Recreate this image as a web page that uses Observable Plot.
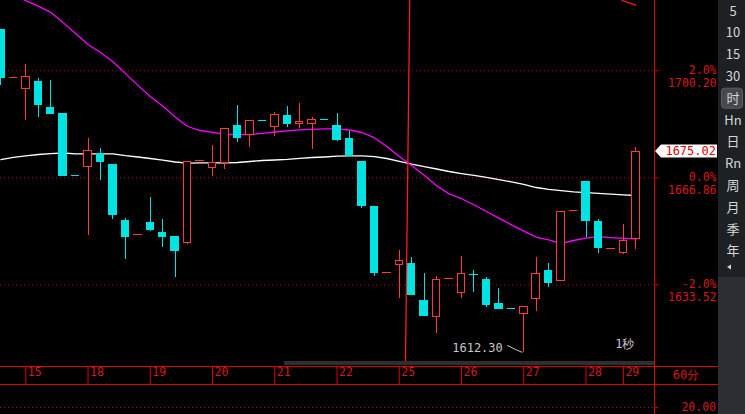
<!DOCTYPE html>
<html><head><meta charset="utf-8">
<script src="https://cdn.jsdelivr.net/npm/d3@7"></script>
<script src="https://cdn.jsdelivr.net/npm/@observablehq/plot@0.6"></script>
<style>
html,body{margin:0;padding:0;background:#000;overflow:hidden;}
#chart svg{display:block;}
</style></head><body><div id="chart"></div>
<script>
// ---- data (60-minute bars, index 0..51) ----
const opens = [1713.06,1697.95,1694.46,1696.86,1688.76,1686.89,1667.50,1670.16,1674.21,1670.69,
  1653.55,1649.08,1652.62,1649.81,1648.26,1646.48,1672.13,1669.85,1671.47,1683.15,
  1680.25,1684.64,1682.62,1685.96,1683.56,1683.56,1684.95,1683.15,1678.79,1671.93,
  1657.91,1637.23,1639.62,1640.15,1628.62,1623.42,1635.36,1630.90,1636.66,1634.86,
  1627.38,1626.06,1624.36,1629.03,1637.97,1634.64,1656.55,1665.70,1653.24,1644.72,
  1643.36,1647.85];
const highs = [1713.06,1697.99,1702.16,1697.70,1697.17,1686.89,1667.50,1679.10,1675.98,1670.69,
  1654.17,1649.10,1660.72,1653.86,1648.26,1671.84,1672.15,1676.92,1682.12,1689.39,
  1684.71,1684.64,1687.11,1689.07,1690.01,1685.65,1684.95,1686.89,1681.28,1671.93,
  1657.91,1637.25,1644.20,1642.02,1637.04,1636.10,1635.38,1642.33,1637.97,1635.79,
  1632.36,1626.06,1626.66,1642.02,1640.06,1656.26,1656.57,1665.70,1653.86,1644.76,
  1652.21,1676.30];
const lows = [1695.61,1697.95,1684.71,1685.74,1686.89,1667.26,1667.48,1648.88,1666.01,1653.86,
  1641.40,1649.08,1650.12,1645.14,1635.79,1646.17,1672.13,1667.26,1669.44,1677.86,
  1676.39,1684.62,1679.82,1682.53,1682.31,1675.77,1684.93,1678.17,1673.71,1657.29,
  1636.10,1637.23,1629.34,1630.49,1623.95,1618.44,1635.36,1629.34,1631.12,1626.54,
  1625.82,1626.04,1612.30,1625.29,1632.77,1634.64,1656.55,1648.25,1643.27,1644.72,
  1642.96,1644.51];
const closes = [1697.89,1697.99,1698.33,1689.39,1686.89,1667.57,1667.48,1675.27,1671.93,1655.42,
  1648.56,1649.10,1650.44,1648.26,1643.90,1671.84,1672.15,1671.53,1682.12,1679.41,
  1684.71,1684.62,1686.49,1683.77,1684.09,1685.02,1684.93,1678.48,1673.71,1658.22,
  1637.04,1637.25,1640.99,1630.49,1623.95,1635.07,1635.38,1636.94,1636.63,1627.07,
  1626.13,1626.04,1626.66,1636.94,1634.23,1656.26,1656.57,1653.55,1644.83,1644.76,
  1647.32,1675.02];
// moving averages
const maFast = [1725.2,1723.7,1722.07,1720.36,1718.42,1715.21,1711.79,1708.39,1705.90,1703.03,
  1699.39,1695.65,1692.16,1689.23,1685.83,1682.84,1681.59,1681.00,1680.35,1680.35,
  1680.35,1680.72,1681.13,1681.50,1681.78,1681.97,1682.12,1682.12,1681.75,1680.97,
  1679.35,1676.61,1673.49,1670.69,1667.66,1664.39,1661.84,1660.34,1658.47,1656.35,
  1654.30,1652.21,1650.22,1648.38,1647.51,1646.35,1647.32,1648.07,1648.50,1648.22,
  1648.01,1647.82];
const maSlow = [1672.50,1673.21,1673.71,1674.12,1674.40,1674.58,1674.33,1674.33,1674.33,1674.33,
  1673.74,1673.34,1672.87,1672.34,1671.78,1671.44,1671.53,1671.53,1671.53,1671.62,
  1671.93,1672.25,1672.40,1672.62,1672.93,1673.18,1673.34,1673.58,1673.71,1673.71,
  1673.43,1672.87,1671.99,1671.12,1670.34,1669.60,1668.82,1668.19,1667.63,1666.98,
  1666.29,1665.61,1664.83,1663.83,1663.27,1662.84,1662.46,1662.21,1662.00,1661.78,
  1661.53,1661.34];
// x axis: day labels and the bar index where each day starts
const dayLabels = ["15","18","19","20","21","22","25","26","27","28","29"];
const dayStart = [2,7,12,17,22,27,32,37,42,47,50];
// right axis levels
const pctLabels = ["2.0%","0.0%","-2.0%"];
const priceLevels = [1700.20,1666.86,1633.52];
const lastPrice = 1675.02;
const lowIndex = 42, lowPrice = 1612.30;
// user-drawn lines (bar index, price)
const drawLine1 = [{i:32.84,p:1722.10},{i:32.50,p:1609.93}];
const drawLine2 = [{i:49.90,p:1722.10},{i:51.00,p:1720.64}];
const periodButtons = ["5","10","15","30","时","Hn","日","Rn","周","月","季","年"];
const activeButton = "时";
const volLevel = "20.00";

// ---- build ----
const RED = "#ff3a3a", CYAN = "#00e3e3", FRAME = "#e00000", TXT = "#d81818", DOT = "#b00000";
const rows = opens.map((o,i)=>({i, open:o, high:highs[i], low:lows[i], close:closes[i],
  up: closes[i] > o, maFast: maFast[i], maSlow: maSlow[i]}));
const days = dayLabels.map((l,k)=>({label:l, i:dayStart[k]}));
const levels = priceLevels.map((p,k)=>({p, pct:pctLabels[k], txt:p.toFixed(2)}));
const mono = "'DejaVu Sans Mono', 'Liberation Mono', monospace";

const chart = Plot.plot({
  width: 745, height: 414,
  marginLeft: 0, marginRight: 91, marginTop: 0, marginBottom: 48,
  style: {background: "#000", fontFamily: mono, overflow: "visible"},
  x: {type: "linear", domain: [-0.032, 52.5], axis: null},
  y: {domain: [1609.93, 1722.10], range: [360, 0], axis: null},
  color: {type: "identity"},
  marks: [
    Plot.ruleY(levels, {y: "p", stroke: DOT, strokeDasharray: "1,3"}),
    Plot.axisY({anchor: "right", ticks: priceLevels, tickSize: 4, tickFormat: () => "", stroke: DOT, label: null}),
    Plot.text(levels, {y: "p", text: "pct", frameAnchor: "right", dx: 62, textAnchor: "end", fill: TXT, fontSize: 11.5}),
    Plot.text(levels, {y: "p", text: "txt", frameAnchor: "right", dx: 62, dy: 13, textAnchor: "end", fill: TXT, fontSize: 11.5}),
    Plot.line(rows, {x: "i", y: "maSlow", stroke: "#ffffff", strokeWidth: 1.3, clip: true}),
    Plot.line(rows, {x: "i", y: "maFast", stroke: "#ff00ff", strokeWidth: 1.3, clip: true}),
    Plot.ruleX(rows, {x: "i", y1: "low", y2: "high", stroke: d => d.up || (d.close === d.open) ? RED : CYAN, strokeWidth: 1, shapeRendering: "crispEdges"}),
    Plot.rect(rows, {x1: d => d.i - 0.3, x2: d => d.i + 0.3, y1: "open", y2: "close",
      fill: d => d.up ? "#000" : CYAN, stroke: d => d.up ? RED : CYAN, strokeWidth: 1, shapeRendering: "crispEdges"}),
    Plot.line(drawLine1, {x: "i", y: "p", stroke: "#ff1a1a", strokeWidth: 1.3, clip: true}),
    Plot.line(drawLine2, {x: "i", y: "p", stroke: "#ff1a1a", strokeWidth: 1.3, clip: true}),
    Plot.axisX({anchor: "bottom", ticks: dayStart, tickSize: 18, tickFormat: () => "", stroke: FRAME, label: null}),
    Plot.text(days, {x: "i", text: "label", frameAnchor: "bottom", dy: 9.5, dx: 2, textAnchor: "start", fill: TXT, fontSize: 11.5}),
    Plot.text([{i: lowIndex, p: lowPrice}], {x: "i", y: "p", text: d => d.p.toFixed(2), dx: -21, dy: -5, textAnchor: "end", fill: "#c8c8c8", fontSize: 12}),
    Plot.text(["1秒"], {frameAnchor: "bottom-right", text: d => d, dx: -20, dy: -19, textAnchor: "end", fill: "#c8c8c8", fontSize: 12})
  ]
});
document.getElementById("chart").appendChild(chart);

// ---- chrome drawn with the plot's scales ----
const svg = d3.select(chart);
const xs = chart.scale("x"), ys = chart.scale("y");
const right = 654, g = svg.append("g");
// scroll bar
g.append("rect").attr("x", 284).attr("y", 361).attr("width", right - 284).attr("height", 4).attr("fill", "#2e2e2e");
// leader line to the low label
const lx = xs.apply(lowIndex), ly = ys.apply(lowPrice);
g.append("path").attr("d", `M${lx - 16},${ly - 7}L${lx - 8},${ly - 3}L${lx - 1},${ly}`).attr("fill", "none").attr("stroke", "#c8c8c8").attr("stroke-width", 1);
// band lines
g.append("line").attr("x1", 0).attr("x2", 718).attr("y1", 366.5).attr("y2", 366.5).attr("stroke", FRAME);
g.append("line").attr("x1", 0).attr("x2", 718).attr("y1", 384.5).attr("y2", 384.5).attr("stroke", FRAME);
g.append("line").attr("x1", right + 0.5).attr("x2", right + 0.5).attr("y1", 0).attr("y2", 414).attr("stroke", FRAME);
g.append("text").attr("x", 686).attr("y", 375).attr("dy", "0.35em").attr("text-anchor", "middle").attr("fill", TXT).attr("font-size", 12).attr("font-family", mono).text("60分");
// volume panel top level
g.append("line").attr("x1", 0).attr("x2", right).attr("y1", 407.5).attr("y2", 407.5).attr("stroke", DOT).attr("stroke-dasharray", "1,3");
g.append("line").attr("x1", right).attr("x2", right + 4).attr("y1", 407.5).attr("y2", 407.5).attr("stroke", DOT);
g.append("text").attr("x", 716).attr("y", 407).attr("dy", "0.35em").attr("text-anchor", "end").attr("fill", TXT).attr("font-size", 11.5).attr("font-family", mono).text(volLevel);
// last price marker
const py = ys.apply(lastPrice);
g.append("path").attr("d", `M${right + 1},${py}L${right + 7},${py - 6.5}L717,${py - 6.5}L717,${py + 6.5}L${right + 7},${py + 6.5}Z`).attr("fill", "#fff");
g.append("text").attr("x", 716).attr("y", py).attr("dy", "0.36em").attr("text-anchor", "end").attr("fill", "#e00000").attr("font-size", 12).attr("font-family", mono).text(lastPrice.toFixed(2));
// right period panel
g.append("rect").attr("x", 718).attr("y", 0).attr("width", 27).attr("height", 277).attr("fill", "#1d2124");
g.append("rect").attr("x", 718).attr("y", 277).attr("width", 27).attr("height", 137).attr("fill", "#2b2e32");
periodButtons.forEach((b, k) => {
  const cy = 11 + k * 21.8;
  if (b === activeButton) g.append("rect").attr("x", 721.5).attr("y", cy - 10).attr("width", 21).attr("height", 20).attr("rx", 3).attr("fill", "#45484c").attr("stroke", "#5c5f63");
  g.append("text").attr("x", 733).attr("y", cy).attr("dy", "0.36em").attr("text-anchor", "middle").attr("fill", "#d6d6d6").attr("font-size", 13).attr("font-family", "'Noto Sans CJK SC', 'DejaVu Sans', sans-serif").text(b);
});
g.append("path").attr("d", "M727,267L731,264.5L731,269.5Z").attr("fill", "#d6d6d6");
</script></body></html>
